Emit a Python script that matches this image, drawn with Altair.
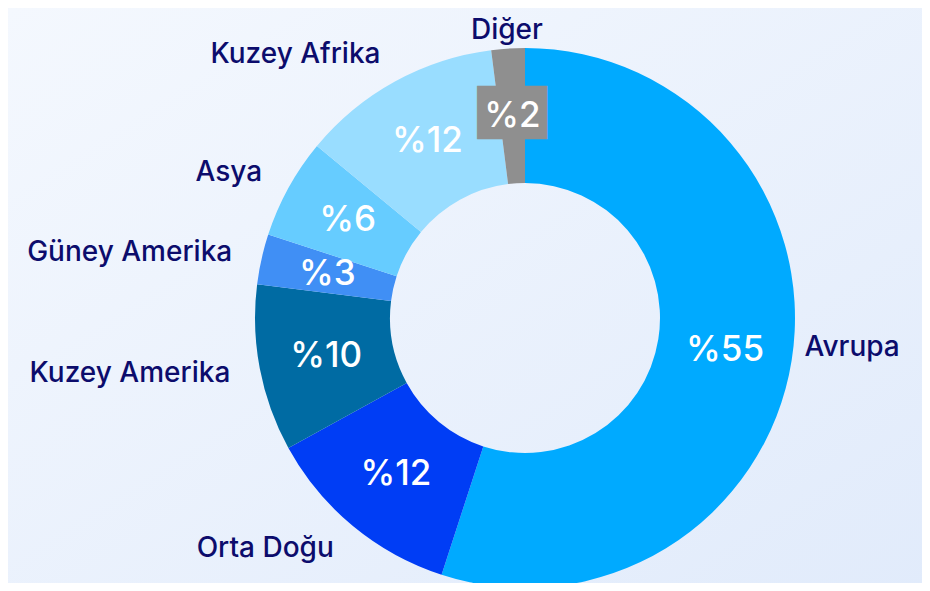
import altair as alt
import pandas as pd

regions = ["Avrupa", "Orta Doğu", "Kuzey Amerika", "Güney Amerika", "Asya", "Kuzey Afrika", "Diğer"]
shares = [55, 12, 10, 3, 6, 12, 2]
colors = ["#00AAFF", "#003DF5", "#006BA3", "#408FF5", "#66CCFF", "#99DDFF", "#8F8F8F"]

df = pd.DataFrame({"region": regions, "value": shares, "idx": list(range(len(regions)))})

theta_scale = alt.Scale(domain=[0, 100])

bg = alt.Chart(pd.DataFrame({"k": [0]})).mark_rect(
    color=alt.LinearGradient(
        gradient="linear",
        stops=[alt.GradientStop(color="#F4F8FE", offset=0), alt.GradientStop(color="#E1EBFB", offset=1)],
        x1=0, y1=0, x2=1, y2=1,
    )
).encode(x=alt.value(-120), x2=alt.value(800), y=alt.value(-45), y2=alt.value(540))

base = alt.Chart(df).transform_window(
    cum="sum(value)", sort=[alt.SortField("idx")], frame=[None, 0]
).transform_calculate(
    mid="datum.cum - datum.value / 2",
    label="'%' + datum.value",
    ang="(datum.cum - datum.value / 2) * 3.6",
)

arcs = alt.Chart(df).mark_arc(outerRadius=270, innerRadius=135).encode(
    theta=alt.Theta("value:Q", stack=True, scale=theta_scale),
    color=alt.Color("region:N", scale=alt.Scale(domain=regions, range=colors), legend=None),
    order=alt.Order("idx:Q"),
)

theta_mid = alt.Theta("mid:Q", stack=None, scale=theta_scale)

box = base.transform_filter("datum.value < 3").mark_text(
    radius=204, font="DejaVu Sans", fontSize=45, color="#8F8F8F", baseline="middle", align="center"
).encode(theta=theta_mid, text=alt.value("██"))

inner = base.mark_text(
    radius=202.5, font="Inter", fontSize=35, fontWeight=500, color="white", baseline="middle", align="center"
).encode(theta=theta_mid, text="label:N")

out_kw = dict(font="Inter", fontSize=28, fontWeight=500, color="#0C0C6C")

right_lbl = base.transform_filter("datum.ang < 175").mark_text(
    align="left", baseline="bottom", radius=283, **out_kw).encode(theta=theta_mid, text="region:N")
left_lbl = base.transform_filter("datum.ang >= 185 && datum.ang < 350").mark_text(
    align="right", baseline="middle", radius=300, **out_kw).encode(theta=theta_mid, text="region:N")
top_lbl = base.transform_filter("datum.ang >= 350").mark_text(
    align="center", baseline="middle", radius=288, **out_kw).encode(theta=theta_mid, text="region:N")

chart = alt.layer(bg, arcs, box, inner, right_lbl, left_lbl, top_lbl).properties(
    width=794, height=530,
    autosize=alt.AutoSizeParams(type="none"),
    padding={"left": 120, "top": 45, "right": 0, "bottom": 0},
).configure(background="#EAF1FC").configure_view(stroke=None)

chart.save("out.html", embed_options={"renderer": "svg", "actions": False})
